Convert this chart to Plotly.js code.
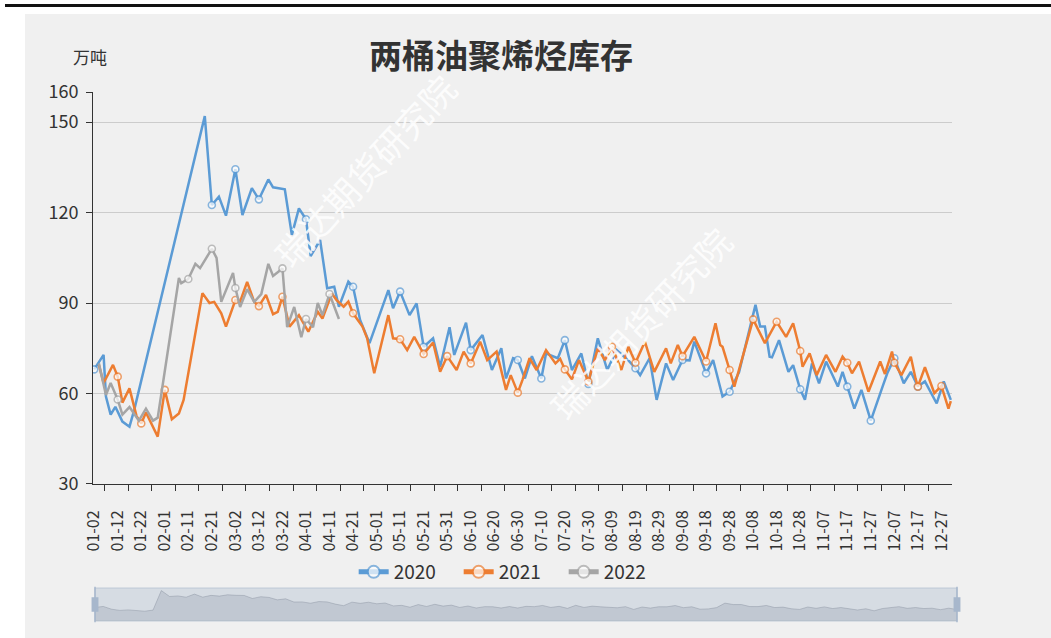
<!DOCTYPE html>
<html>
<head>
<meta charset="utf-8">
<script src="https://cdn.plot.ly/plotly-3.0.1.min.js"></script>
<style>
  html, body { margin:0; padding:0; background:#ffffff; width:1051px; height:638px; overflow:hidden; }
  #topline { position:absolute; left:5px; top:4px; width:1046px; height:3px; background:#111; }
  #chart { position:absolute; left:25px; top:14px; width:1026px; height:624px; }
</style>
</head>
<body>
<div id="topline"></div>
<div id="chart"></div>
<script>
// ---------------- data ----------------
const tickLabels = ['01-02','01-12','01-22','02-01','02-11','02-21','03-02','03-12','03-22','04-01','04-11','04-21','05-01','05-11','05-21','05-31','06-10','06-20','06-30','07-10','07-20','07-30','08-09','08-19','08-29','09-08','09-18','09-28','10-08','10-18','10-28','11-07','11-17','11-27','12-07','12-17','12-27'];

const dates2020 = ['01-02','01-06','01-07','01-09','01-11','01-14','01-17','01-19','02-18','02-21','02-24','02-27','03-02','03-05','03-09','03-12','03-16','03-18','03-23','03-26','03-29','04-01','04-03','04-07','04-10','04-13','04-15','04-19','04-21','04-24','04-28','05-06','05-08','05-11','05-15','05-18','05-21','05-25','05-28','06-01','06-03','06-08','06-10','06-15','06-19','06-23','06-25','06-28','06-30','07-03','07-06','07-10','07-12','07-17','07-20','07-23','07-27','07-30','08-03','08-07','08-11','08-16','08-19','08-21','08-25','08-28','09-01','09-04','09-08','09-11','09-13','09-18','09-21','09-25','09-28','10-02','10-09','10-11','10-13','10-15','10-16','10-19','10-23','10-25','10-28','10-30','11-02','11-05','11-08','11-13','11-15','11-17','11-20','11-23','11-27','12-02','12-04','12-07','12-11','12-14','12-17','12-20','12-25','12-28','12-31'];
const values2020 = [68,72.8,59,53,55.6,50.7,49,54.5,152,122.5,125.3,119,134.4,119.2,128.1,124.4,131,128.4,127.7,112.6,121.4,117.8,105.6,110.9,94.9,95.4,88.8,97.1,95.4,84.4,76.7,94.3,88.3,93.8,86,89.9,75.5,78.3,68.9,82,72.8,83.5,74.4,79.4,67.8,75,65,71.7,71.1,65,72.4,65,73.3,71.7,77.7,67.8,73.3,63.2,78.3,67.8,74.4,71,68.4,66.1,71.7,57.9,70,64.5,71.1,71,77.2,66.7,71.1,59,60.6,67,89.4,82.2,82.2,72.2,72,77.7,67.2,69.4,61.4,57.9,70,63.4,70.6,62.3,67.2,62.3,55,61.2,51,62.3,66.7,71.7,63.4,67.2,62.3,64,56.7,64,57.9];

const dates2021 = ['01-04','01-06','01-10','01-12','01-14','01-17','01-20','01-22','01-24','01-29','02-01','02-04','02-07','02-09','02-17','02-20','02-22','02-25','02-27','03-02','03-04','03-07','03-10','03-12','03-15','03-18','03-20','03-22','03-25','03-29','04-02','04-06','04-08','04-12','04-14','04-17','04-19','04-21','04-25','04-27','04-30','05-06','05-08','05-11','05-14','05-17','05-21','05-25','05-28','05-31','06-04','06-07','06-10','06-14','06-17','06-21','06-25','06-27','06-30','07-02','07-05','07-08','07-12','07-16','07-18','07-20','07-23','07-26','07-30','08-03','08-06','08-09','08-13','08-16','08-19','08-23','08-27','09-01','09-03','09-06','09-08','09-13','09-18','09-22','09-24','09-25','09-28','09-30','10-08','10-13','10-18','10-22','10-25','10-28','10-29','11-01','11-04','11-08','11-12','11-15','11-17','11-19','11-22','11-26','12-01','12-03','12-06','12-07','12-10','12-14','12-16','12-17','12-20','12-24','12-27','12-30','12-31'];
const values2021 = [69.5,63.5,69.5,65.6,57,61.7,52.5,50.1,53.7,45.7,61.2,51.5,53.4,57.9,93.3,90,90.4,86.6,82.2,91,90.5,97,90.4,89,92.7,86.3,87.1,92.1,82.2,86,80.5,87.1,84.9,93.2,91,88.8,90.5,86.6,82.2,78.3,66.7,86,78.3,78,74.4,78.8,73.1,76.9,67.2,72.4,67.8,73.9,70,77.2,71.1,73.9,61.2,66.1,60.3,64.5,71.7,67.8,74.4,70,71.5,68,64.7,71.1,64,75,71.1,75.5,67.8,75.5,70.2,77.2,67.2,75,70,76.1,72.4,78.8,70.6,83.3,76.1,75.5,67.8,62.3,84.6,76.7,83.8,78.8,83.3,74.1,68.9,73.3,66.1,72.8,67.2,72.2,70.2,66.7,70.6,60.6,70.6,66.5,73.9,70.2,66.1,72.2,65,62.3,68.7,60.1,62.5,55,57.5];

const dates2022 = ['01-04','01-07','01-09','01-12','01-14','01-17','01-21','01-24','01-27','01-29','02-07','02-08','02-11','02-14','02-16','02-21','02-23','02-25','03-01','03-02','03-04','03-07','03-10','03-13','03-16','03-18','03-22','03-24','03-27','03-30','04-01','04-04','04-06','04-08','04-11','04-15'];
const values2022 = [70,59.5,63.5,58,53,55.5,51,55,51,52,98.3,96.6,98,103,101.6,108,105,90.4,100,95,88.7,94.6,90.4,93,103,99,101.5,82,88.7,78.7,84.7,82,90,86,93,84.7];

const seriesNames = ['2020','2021','2022'];
const seriesColors = ['#5b9bd5','#ed7d31','#a5a5a5'];
const yTicks = [30,60,90,120,150,160];

// ---------------- category axis (calendar days, leap-year) ----------------
const monthDays = [31,29,31,30,31,30,31,31,30,31,30,31];
const pad = n => (n < 10 ? '0' : '') + n;
const categories = [];
monthDays.forEach((n, m) => {
  for (let d = 1; d <= n; d++) {
    if (m === 0 && d === 1) continue;
    categories.push(pad(m + 1) + '-' + pad(d));
  }
});
const N = categories.length;
const idx = d => categories.indexOf(d);
const tickVals = tickLabels.map(idx);
const minorVals = tickVals.map(v => v + 4.5).filter(v => v < N - 0.5);

function lineTrace(dates, vals, name, color) {
  const isMark = dates.map(d => tickLabels.indexOf(d) >= 0);
  return {
    type: 'scatter', mode: 'lines+markers', name: name,
    x: dates.map(idx), y: vals,
    line: { color: color, width: 2.5 },
    marker: {
      color: '#ffffff',
      size: isMark.map(m => m ? 7 : 0),
      line: { color: color, width: isMark.map(m => m ? 1.6 : 0) }
    },
    hoverinfo: 'skip', xaxis: 'x', yaxis: 'y'
  };
}

const shadow = {
  type: 'scatter', mode: 'lines', x: values2020.map((v, i) => i), y: values2020,
  fill: 'tozeroy', fillcolor: 'rgba(140,150,165,0.28)',
  line: { color: 'rgba(120,130,145,0.45)', width: 0.8 },
  xaxis: 'x2', yaxis: 'y2', showlegend: false, hoverinfo: 'skip'
};

const data = [
  shadow,
  lineTrace(dates2020, values2020, seriesNames[0], seriesColors[0]),
  lineTrace(dates2021, values2021, seriesNames[1], seriesColors[1]),
  lineTrace(dates2022, values2022, seriesNames[2], seriesColors[2])
];

const FONT = '"Noto Sans CJK SC", "Noto Sans", sans-serif';

const layout = {
  width: 1026, height: 624,
  paper_bgcolor: '#f0f0f0', plot_bgcolor: 'rgba(0,0,0,0)',
  margin: { l: 68, r: 94, t: 78, b: 17 },
  font: { family: FONT, color: '#333333', size: 16 },
  showlegend: true,
  legend: {
    orientation: 'h', x: 0.484, xanchor: 'center', y: 0.0926, yanchor: 'middle',
    itemsizing: 'constant', font: { size: 19, color: '#333333' },
    bgcolor: 'rgba(0,0,0,0)', traceorder: 'normal', entrywidth: 60
  },
  xaxis: {
    domain: [0, 0.99421], anchor: 'y', range: [-0.5, N - 0.5],
    tickmode: 'array', tickvals: tickVals, ticktext: tickLabels, tickangle: -90,
    ticks: 'outside', ticklen: 6, tickcolor: 'rgba(0,0,0,0)', ticklabelstandoff: 13,
    showline: true, linecolor: '#333333', linewidth: 1,
    showgrid: false, zeroline: false,
    tickfont: { size: 16, color: '#333333' },
    minor: { tickmode: 'array', tickvals: minorVals, ticks: 'outside', ticklen: 6, tickcolor: '#333333', tickwidth: 1, showgrid: false },
    fixedrange: true
  },
  yaxis: {
    domain: [0.259, 1], anchor: 'x', range: [30, 160],
    tickmode: 'array', tickvals: yTicks,
    ticks: 'outside', ticklen: 6, tickcolor: '#333333', ticklabelstandoff: 4,
    showline: true, linecolor: '#333333', linewidth: 1,
    showgrid: true, gridcolor: '#cccccc', gridwidth: 1, zeroline: false,
    tickfont: { size: 18, color: '#333333' }, fixedrange: true
  },
  xaxis2: { domain: [0.00231, 1], anchor: 'y2', range: [0, values2020.length - 1], visible: false, fixedrange: true },
  yaxis2: { domain: [0, 0.0624], anchor: 'x2', range: [0, 165], visible: false, fixedrange: true },
  shapes: [
    { type: 'rect', xref: 'x2 domain', yref: 'y2 domain', x0: 0, x1: 1, y0: 0, y1: 1,
      fillcolor: 'rgba(167,183,204,0.35)', line: { color: 'rgba(167,183,204,0.6)', width: 1 }, layer: 'below' },
    { type: 'line', xref: 'x2 domain', yref: 'y2 domain', x0: 0, x1: 0, y0: -0.04, y1: 1.04, line: { color: '#a7b7cc', width: 1.5 } },
    { type: 'line', xref: 'x2 domain', yref: 'y2 domain', x0: 1, x1: 1, y0: -0.04, y1: 1.04, line: { color: '#a7b7cc', width: 1.5 } },
    { type: 'rect', xref: 'x2 domain', yref: 'y2 domain', x0: -0.004, x1: 0.004, y0: 0.28, y1: 0.72, fillcolor: '#a7b7cc', line: { width: 0 } },
    { type: 'rect', xref: 'x2 domain', yref: 'y2 domain', x0: 0.996, x1: 1.004, y0: 0.28, y1: 0.72, fillcolor: '#a7b7cc', line: { width: 0 } }
  ],
  annotations: [
    { text: '两桶油聚烯烃库存', xref: 'paper', yref: 'paper', x: 0.4728, y: 1.072, xanchor: 'center', yanchor: 'middle',
      showarrow: false, font: { family: FONT, size: 33, weight: 'bold', color: '#333333' } },
    { text: '万吨', xref: 'paper', yref: 'paper', x: -0.0035, y: 1.068, xanchor: 'center', yanchor: 'middle',
      showarrow: false, font: { family: FONT, size: 17, color: '#333333' } },
    { text: '瑞达期货研究院', xref: 'paper', yref: 'paper', x: 0.3148, y: 0.8526, xanchor: 'center', yanchor: 'middle',
      textangle: -47, showarrow: false, font: { family: FONT, size: 35, color: 'rgba(255,255,255,0.85)' } },
    { text: '瑞达期货研究院', xref: 'paper', yref: 'paper', x: 0.633, y: 0.5652, xanchor: 'center', yanchor: 'middle',
      textangle: -47, showarrow: false, font: { family: FONT, size: 35, color: 'rgba(255,255,255,0.85)' } }
  ]
};

Plotly.newPlot('chart', data, layout, { staticPlot: true, displayModeBar: false });
</script>
</body>
</html>
